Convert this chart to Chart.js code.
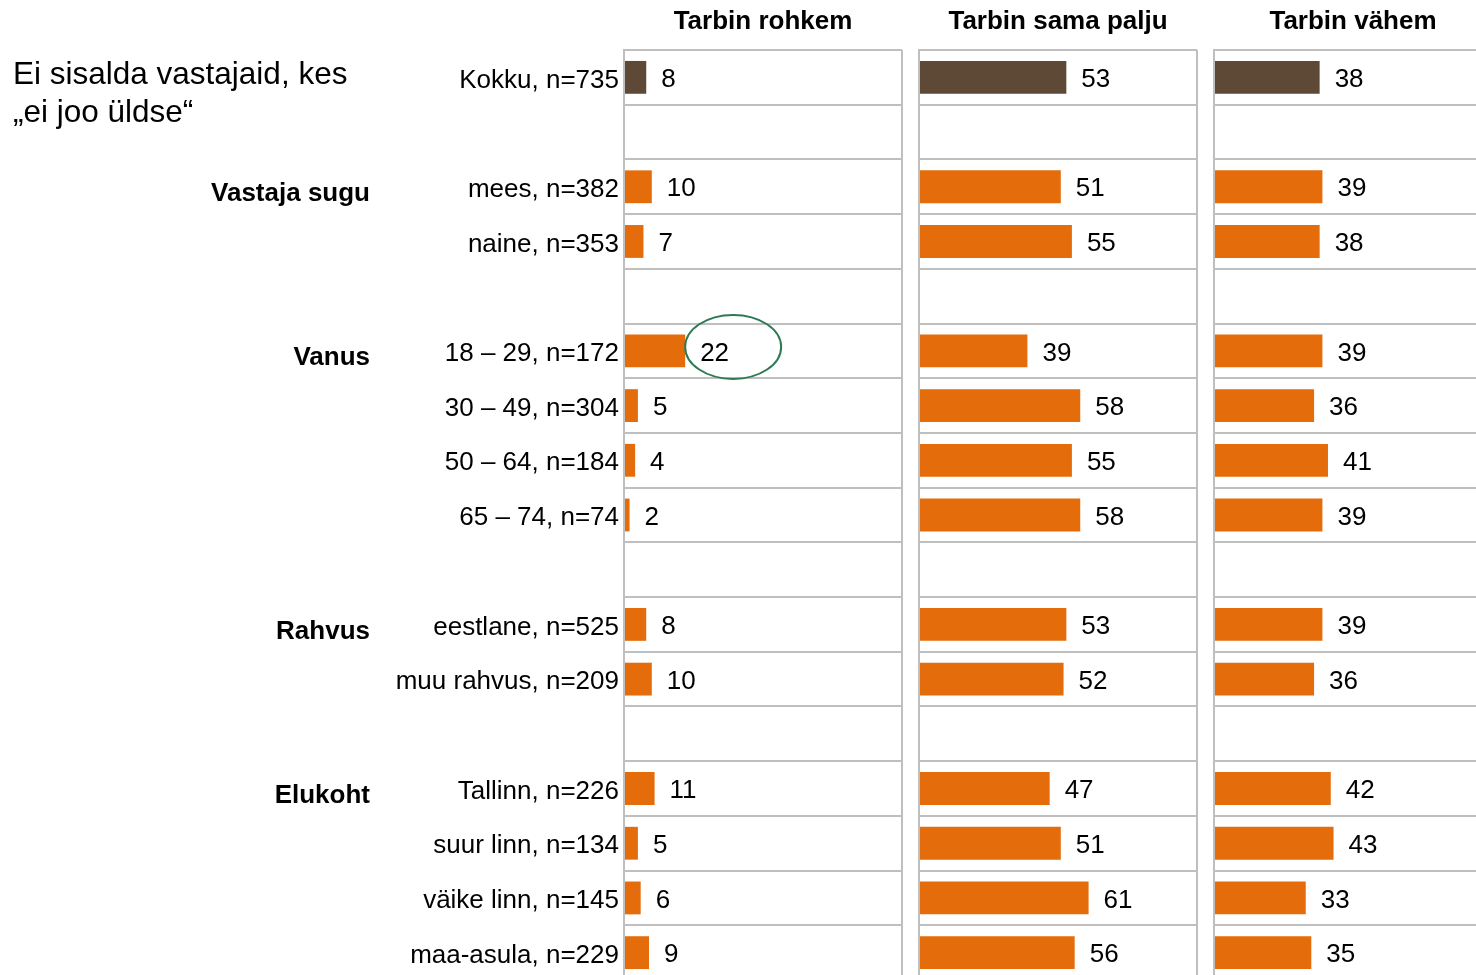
<!DOCTYPE html>
<html>
<head>
<meta charset="utf-8">
<script src="https://cdn.jsdelivr.net/npm/chart.js@4/dist/chart.umd.min.js"></script>
<style>
    body { margin: 0; background: #fff; overflow: hidden; }
    #wrap { position: relative; width: 1476px; height: 975px; overflow: hidden; }
    canvas { position: absolute; top: 0; }
</style>
</head>
<body>
<div id="wrap">
    <canvas id="panel1" width="904" height="980" style="left:0px"></canvas>
    <canvas id="panel2" width="285" height="980" style="left:914px"></canvas>
    <canvas id="panel3" width="285" height="980" style="left:1209px"></canvas>
</div>
<script>
// chart data
const categories = [
    "Kokku, n=735", "",
    "mees, n=382", "naine, n=353", "",
    "18 – 29, n=172", "30 – 49, n=304", "50 – 64, n=184", "65 – 74, n=74", "",
    "eestlane, n=525", "muu rahvus, n=209", "",
    "Tallinn, n=226", "suur linn, n=134", "väike linn, n=145", "maa-asula, n=229"
];
const rohkem    = [8, null, 10, 7, null, 22, 5, 4, 2, null, 8, 10, null, 11, 5, 6, 9];
const samaPalju = [53, null, 51, 55, null, 39, 58, 55, 58, null, 53, 52, null, 47, 51, 61, 56];
const vahem     = [38, null, 39, 38, null, 39, 36, 41, 39, null, 39, 36, null, 42, 43, 33, 35];
const panelTitles = ["Tarbin rohkem", "Tarbin sama palju", "Tarbin vähem"];
const groupNames = ["Vastaja sugu", "Vanus", "Rahvus", "Elukoht"];
const groupRows = [2, 5, 10, 13];
const noteLines = ["Ei sisalda vastajaid, kes", "„ei joo üldse“"];
const highlightRow = 5; // circled value in first panel

const fontname = "'Liberation Sans', Arial, sans-serif";
const totalColor = "#5e4936";
const barColor = "#e46c0a";
const gridColor = "#bfbfbf";

// value labels right of bars
const valueLabels = {
    id: "valueLabels",
    afterDatasetsDraw(chart) {
        const ctx = chart.ctx;
        const meta = chart.getDatasetMeta(0);
        const values = chart.data.datasets[0].data;
        ctx.save();
        ctx.font = "26px " + fontname;
        ctx.fillStyle = "#000";
        ctx.textAlign = "left";
        ctx.textBaseline = "middle";
        meta.data.forEach((bar, i) => {
            if (values[i] == null) return;
            ctx.fillText(values[i], bar.x + 15, bar.y + 2.5);
        });
        ctx.restore();
    }
};

// group names, note and highlight ellipse for first panel
const sideText = {
    id: "sideText",
    afterDraw(chart) {
        const ctx = chart.ctx;
        const yscale = chart.scales.y;
        ctx.save();
        ctx.fillStyle = "#000";
        ctx.textBaseline = "middle";
        ctx.font = "bold 26px " + fontname;
        ctx.textAlign = "right";
        groupNames.forEach((name, i) => {
            ctx.fillText(name, 370, yscale.getPixelForValue(groupRows[i]) + 7);
        });
        ctx.font = "31.5px " + fontname;
        ctx.textAlign = "left";
        noteLines.forEach((line, i) => {
            ctx.fillText(line, 13, yscale.getPixelForValue(0) - 2 + i * 38);
        });
        const bar = chart.getDatasetMeta(0).data[highlightRow];
        ctx.strokeStyle = "#2e7a52";
        ctx.lineWidth = 2;
        ctx.beginPath();
        ctx.ellipse(bar.x + 48, bar.y - 4, 48, 32, 0, 0, Math.PI * 2);
        ctx.stroke();
        ctx.restore();
    }
};

const generatepanel = (canvasid, values, title, showlabels, padleft, axiswidth) => {
    const ctx = document.getElementById(canvasid);
    new Chart(ctx, {
        type: "bar",
        data: {
            labels: categories,
            datasets: [
                {
                    data: values,
                    backgroundColor: (c) => c.dataIndex === 0 ? totalColor : barColor,
                    barPercentage: 0.6,
                    categoryPercentage: 1.0,
                    borderWidth: 0
                }
            ]
        },
        options: {
            indexAxis: "y",
            responsive: false,
            animation: false,
            layout: {
                padding: { left: padleft, right: 2, top: 0, bottom: 0 }
            },
            scales: {
                x: {
                    min: 0,
                    max: 100,
                    position: "bottom",
                    ticks: { display: false, stepSize: 100 },
                    grid: { color: gridColor, lineWidth: 2, drawTicks: false },
                    border: { display: false },
                    afterFit: (scale) => { scale.height = 0; }
                },
                y: {
                    ticks: {
                        display: showlabels,
                        color: "#000",
                        padding: 5,
                        labelOffset: 3,
                        font: { size: 26, family: fontname }
                    },
                    grid: { color: gridColor, lineWidth: 2, drawTicks: false },
                    border: { color: gridColor, width: 2 },
                    afterFit: (scale) => {
                        scale.width = axiswidth;
                        scale.paddingTop = 0;
                        scale.paddingBottom = 0;
                    }
                }
            },
            plugins: {
                legend: { display: false },
                tooltip: { enabled: false },
                title: {
                    display: true,
                    text: title,
                    color: "#000",
                    fullSize: false,
                    font: { size: 26, weight: "bold", family: fontname, lineHeight: 1.2 },
                    padding: { top: 6, bottom: 12.8 }
                }
            }
        },
        plugins: showlabels ? [valueLabels, sideText] : [valueLabels]
    });
};

generatepanel("panel1", rohkem, panelTitles[0], true, 0, 624);
generatepanel("panel2", samaPalju, panelTitles[1], false, 5, 0);
generatepanel("panel3", vahem, panelTitles[2], false, 5, 0);
</script>
</body>
</html>
